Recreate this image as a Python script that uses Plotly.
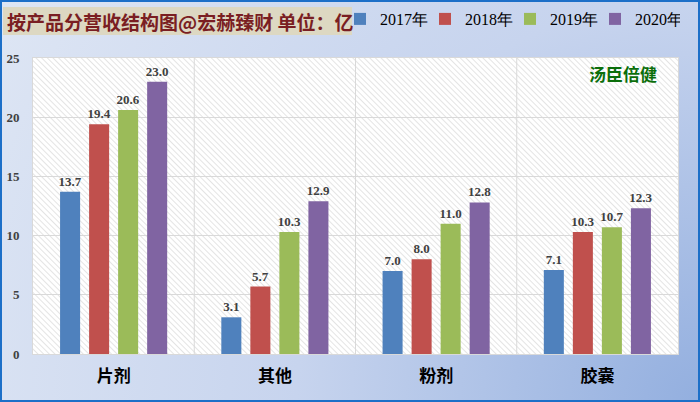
import base64
import plotly.graph_objects as go

# Revenue by product line (unit: 100 million CNY)
categories = ["片剂", "其他", "粉剂", "胶囊"]
years = ["2017年", "2018年", "2019年", "2020年"]
values = {
    "2017年": [13.7, 3.1, 7.0, 7.1],
    "2018年": [19.4, 5.7, 8.0, 10.3],
    "2019年": [20.6, 10.3, 11.0, 10.7],
    "2020年": [23.0, 12.9, 12.8, 12.3],
}
colors = ["#4F81BD", "#C0504D", "#9BBB59", "#8064A2"]
y_ticks = [0, 5, 10, 15, 20, 25]

title_text = "按产品分营收结构图@宏赫臻财 单位：亿"
brand_text = "汤臣倍健"

W, H = 700, 402
ML, MR, MT, MB = 33, 22, 58, 48
PW, PH = W - ML - MR, H - MT - MB


def px_x(px):
    return (px - ML) / PW


def px_y(py):
    return (H - MB - py) / PH


# Background artwork: corner gradient, frame, title plate and hatched plot area
svg = f"""<svg xmlns="http://www.w3.org/2000/svg" width="{W}" height="{H}" viewBox="0 0 {W} {H}">
<defs>
<radialGradient id="g" gradientUnits="userSpaceOnUse" cx="{W}" cy="{H}" r="806">
<stop offset="0" stop-color="#93afdf"/>
<stop offset="0.5" stop-color="#c7d4ee"/>
<stop offset="1" stop-color="#dee6f4"/>
</radialGradient>
<pattern id="h" width="4" height="4" patternUnits="userSpaceOnUse" patternTransform="rotate(-45)">
<rect width="4" height="4" fill="#ffffff"/>
<line x1="0" y1="0" x2="0" y2="4" stroke="#d6d6d6" stroke-width="1.3"/>
</pattern>
</defs>
<rect x="0" y="0" width="{W}" height="{H}" fill="url(#g)"/>
<rect x="1" y="1" width="{W-2}" height="{H-2}" fill="none" stroke="#1c6fc8" stroke-width="2"/>
<rect x="3" y="7" width="349" height="28" fill="#ddd8c2"/>
<rect x="{ML}" y="{MT}" width="{PW}" height="{PH}" fill="url(#h)"/>
</svg>"""
bg_src = "data:image/svg+xml;base64," + base64.b64encode(svg.encode("utf-8")).decode("ascii")

fig = go.Figure()
for year, color in zip(years, colors):
    fig.add_trace(go.Bar(
        name=year,
        x=categories,
        y=values[year],
        marker=dict(color=color, line=dict(width=0)),
        text=values[year],
        texttemplate="%{y:.1f}",
        textposition="outside",
        constraintext="none",
        textfont=dict(family="Liberation Serif", size=13, color="#404040", weight="bold"),
        cliponaxis=False,
    ))

fig.update_layout(
    width=W,
    height=H,
    margin=dict(l=ML, r=MR, t=MT, b=MB, pad=0, autoexpand=False),
    paper_bgcolor="#dee6f4",
    plot_bgcolor="#ffffff",
    barmode="group",
    bargap=0.28,
    bargroupgap=0.31,
    showlegend=True,
    legend=dict(
        orientation="h",
        x=px_x(340),
        y=px_y(2),
        xanchor="left",
        yanchor="top",
        entrywidth=40,
        entrywidthmode="pixels",
        bgcolor="rgba(0,0,0,0)",
        font=dict(family="Liberation Serif", size=16, color="#000000"),
        traceorder="normal",
    ),
    images=[dict(
        source=bg_src,
        xref="paper", yref="paper",
        x=px_x(0), y=px_y(0),
        sizex=W / PW, sizey=H / PH,
        xanchor="left", yanchor="top",
        sizing="stretch",
        layer="below",
    )],
    annotations=[
        dict(
            text=title_text,
            xref="paper", yref="paper",
            x=px_x(5), y=px_y(21),
            xanchor="left", yanchor="middle",
            showarrow=False,
            font=dict(family="Noto Sans CJK SC", size=19, color="#7a1e22", weight="bold"),
        ),
        dict(
            text=brand_text,
            xref="paper", yref="paper",
            x=px_x(623), y=px_y(73),
            xanchor="center", yanchor="middle",
            showarrow=False,
            font=dict(family="Noto Sans CJK SC", size=17, color="#0a6e0a", weight="bold"),
        ),
    ],
)

fig.update_xaxes(
    showgrid=False,
    showline=True,
    linecolor="#d9d9d9",
    linewidth=1,
    mirror=True,
    ticks="",
    ticklabelstandoff=7,
    tickfont=dict(family="Noto Sans CJK SC", size=17, color="#000000", weight="bold"),
)

fig.update_yaxes(
    range=[0, 25],
    tickvals=y_ticks,
    showgrid=True,
    gridcolor="#d9d9d9",
    gridwidth=1,
    showline=True,
    linecolor="#d9d9d9",
    linewidth=1,
    mirror=True,
    zeroline=False,
    ticks="",
    ticklabelstandoff=10,
    tickfont=dict(family="Liberation Serif", size=13, color="#404040", weight="bold"),
)

# Vertical separators between product groups
for i in range(1, len(categories)):
    fig.add_vline(x=i - 0.5, line=dict(color="#d9d9d9", width=1), layer="below")

fig.write_html("out.html")
